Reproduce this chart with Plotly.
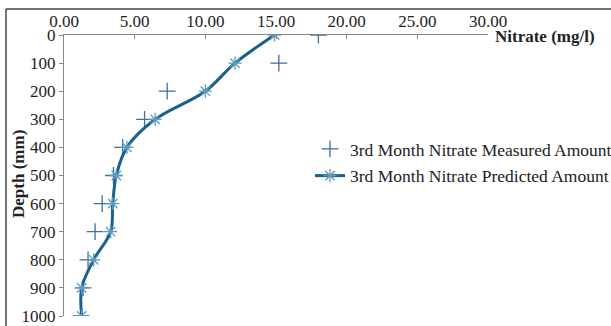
import plotly.graph_objects as go

depth = [0, 100, 200, 300, 400, 500, 600, 700, 800, 900, 1000]
measured = [18.0, 15.2, 7.3, 5.7, 4.15, 3.5, 2.7, 2.2, 1.7, 1.35, 1.2]
predicted = [14.9, 12.1, 10.0, 6.45, 4.45, 3.7, 3.45, 3.3, 2.1, 1.25, 1.25]
x_ticks = [0, 5, 10, 15, 20, 25, 30]
y_ticks = [0, 100, 200, 300, 400, 500, 600, 700, 800, 900, 1000]

FONT = "Liberation Serif"
W, H = 611, 326
L, R, T, B = 64, 123, 35, 10
pw, ph = W - L - R, H - T - B

fig = go.Figure()
fig.add_trace(go.Scatter(
    x=measured, y=depth, mode="markers",
    name="3rd Month Nitrate Measured Amount",
    legendgroup="a",
    marker=dict(symbol="cross-thin", size=12, color="#3f6f9f",
                line=dict(color="#3f6f9f", width=1.3)),
))
fig.add_trace(go.Scatter(
    x=predicted, y=depth, mode="lines+markers",
    name="3rd Month Nitrate Predicted Amount",
    legendgroup="b",
    line=dict(color="#1b5f8c", width=3, shape="spline", smoothing=1.0),
    marker=dict(symbol="asterisk", size=11, color="#5b9bc0",
                line=dict(color="#5b9bc0", width=1.3)),
))

fig.update_layout(
    width=W, height=H,
    margin=dict(l=L, r=R, t=T, b=B, autoexpand=False),
    paper_bgcolor="white", plot_bgcolor="white",
    font=dict(family=FONT, color="#222222", size=17),
    showlegend=True,
    legend=dict(x=(310 - L) / pw, y=1 - (131 - T) / ph, xanchor="left", yanchor="top",
                font=dict(family=FONT, size=17.5, color="#222222"),
                bgcolor="rgba(0,0,0,0)", traceorder="grouped", tracegroupgap=1,
                itemwidth=30),
    xaxis=dict(range=[0, 30], side="top", tickvals=x_ticks,
               ticktext=[f"{v:.2f}" for v in x_ticks],
               showgrid=False, zeroline=False, showline=True,
               linecolor="#888888", linewidth=1, ticks="inside", ticklen=4,
               tickcolor="#888888", tickfont=dict(family=FONT, size=17, color="#222222"),
               anchor="y", position=1, automargin=False),
    yaxis=dict(range=[1000, 0], tickvals=y_ticks,
               showgrid=False, zeroline=False, showline=True,
               linecolor="#888888", linewidth=1, ticks="outside", ticklen=4,
               tickcolor="#888888", tickfont=dict(family=FONT, size=17, color="#222222"),
               automargin=False),
    shapes=[
        dict(type="line", xref="paper", yref="paper", layer="above",
             x0=(6 - L) / pw, x1=(W - L) / pw,
             y0=1 + (T - 9) / ph, y1=1 + (T - 9) / ph,
             line=dict(color="#444444", width=1.5)),
        dict(type="line", xref="paper", yref="paper", layer="above",
             x0=(6 - L) / pw, x1=(6 - L) / pw,
             y0=-B / ph, y1=1 + (T - 9) / ph,
             line=dict(color="#444444", width=1.5)),
    ],
)

fig.add_annotation(text="<b>Depth (mm)</b>", xref="paper", yref="paper",
                   x=(18 - L) / pw, y=1 - (174 - T) / ph, xanchor="center", yanchor="middle",
                   textangle=-90, showarrow=False,
                   font=dict(family=FONT, size=17, color="#222222"))
fig.add_annotation(text="<b>Nitrate (mg/l)</b>", xref="paper", yref="paper",
                   x=(493 - L) / pw, y=1 - (37 - T) / ph, xanchor="left", yanchor="middle",
                   showarrow=False, font=dict(family=FONT, size=17, color="#222222"))

fig.write_html("out.html")
